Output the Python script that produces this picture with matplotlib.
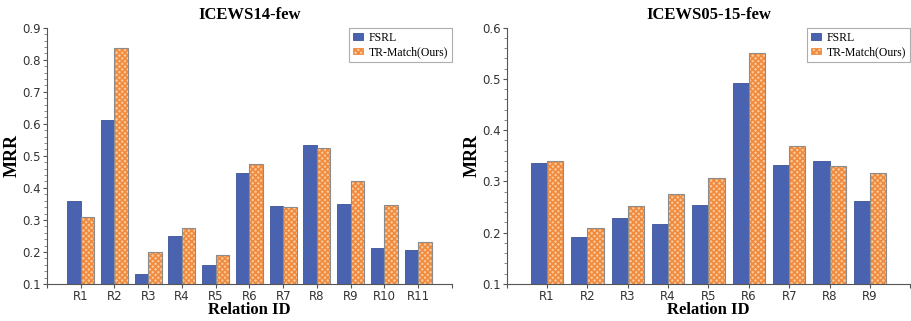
import matplotlib
matplotlib.use("Agg")
import matplotlib.pyplot as plt
import numpy as np
from matplotlib.ticker import AutoMinorLocator, FixedLocator
from matplotlib.patches import Patch

left_labels = ["R1", "R2", "R3", "R4", "R5", "R6", "R7", "R8", "R9", "R10", "R11"]
left_fsrl = [0.358, 0.611, 0.130, 0.249, 0.158, 0.446, 0.342, 0.533, 0.351, 0.211, 0.205]
left_trm = [0.308, 0.836, 0.200, 0.276, 0.192, 0.476, 0.340, 0.525, 0.423, 0.347, 0.232]

right_labels = ["R1", "R2", "R3", "R4", "R5", "R6", "R7", "R8", "R9"]
right_fsrl = [0.336, 0.192, 0.229, 0.217, 0.254, 0.493, 0.333, 0.339, 0.261]
right_trm = [0.339, 0.210, 0.252, 0.275, 0.307, 0.551, 0.369, 0.331, 0.316]

BLUE = "#4a63b0"
BLUE_EDGE = "#3d5296"
ORANGE_FACE = "#fcc89a"
ORANGE_HATCH = "#f08a3c"
SERIF = ["Liberation Serif", "DejaVu Serif"]

plt.rcParams['hatch.linewidth'] = 1.2

fig = plt.figure(figsize=(9.11, 3.21), dpi=100)
ax1 = fig.add_axes([0.0516, 0.1153, 0.4445, 0.7984])
ax2 = fig.add_axes([0.5562, 0.1153, 0.4430, 0.7984])

def draw(ax, labels, fsrl, trm, ylim, title):
    n = len(labels)
    x = np.arange(1, n + 1)
    w = 0.4
    base = ylim[0]
    fh = np.array(fsrl) - base
    th = np.array(trm) - base
    ax.bar(x - w / 2, fh, w, bottom=base, color=BLUE, edgecolor=BLUE_EDGE, linewidth=0.6, zorder=2)
    ax.bar(x + w / 2, th, w, bottom=base, color=ORANGE_FACE, edgecolor=ORANGE_HATCH,
           hatch="xxxxxx", linewidth=0, zorder=2)
    ax.bar(x + w / 2, th, w, bottom=base, fill=False, edgecolor="#8c8c8c", linewidth=0.8, zorder=3)
    ax.set_xlim(0, n + 1)
    ax.set_ylim(*ylim)
    ax.xaxis.set_major_locator(FixedLocator(np.arange(0, n + 2)))
    ax.set_xticklabels([""] + labels + [""])
    ax.yaxis.set_minor_locator(AutoMinorLocator(5))
    ax.tick_params(axis="both", which="major", length=3, width=0.8, colors="#555555",
                   labelcolor="#333333", labelsize=8.5, pad=1.5)
    ax.tick_params(axis="y", which="minor", length=2, width=0.6, colors="#777777")
    for s in ["top", "right"]:
        ax.spines[s].set_visible(False)
    for s in ["left", "bottom"]:
        ax.spines[s].set_color("#555555")
        ax.spines[s].set_linewidth(0.8)
    ax.set_title(title, fontfamily=SERIF, fontweight="bold", fontsize=12, pad=6)
    ax.set_ylabel("MRR", fontfamily=SERIF, fontweight="bold", fontsize=13, labelpad=1)
    ax.set_xlabel("Relation ID", fontfamily=SERIF, fontweight="bold", fontsize=12, labelpad=-1)
    handles = [Patch(facecolor=BLUE, edgecolor=BLUE_EDGE, linewidth=0.6, label="FSRL"),
               Patch(facecolor=ORANGE_FACE, edgecolor=ORANGE_HATCH, hatch="xxxxxx", linewidth=0.6,
                     label="TR-Match(Ours)")]
    leg = ax.legend(handles=handles, loc="upper right", bbox_to_anchor=(1.0, 1.0),
                    prop={"family": SERIF, "size": 8.5}, frameon=True, fancybox=False,
                    edgecolor="#999999", handlelength=0.8, handleheight=0.5,
                    handletextpad=0.5, borderpad=0.35, labelspacing=0.2, borderaxespad=0.0)
    leg.get_frame().set_linewidth(0.8)

draw(ax1, left_labels, left_fsrl, left_trm, (0.1, 0.9), "ICEWS14-few")
draw(ax2, right_labels, right_fsrl, right_trm, (0.1, 0.6), "ICEWS05-15-few")

fig.savefig("out.png", dpi=100)
